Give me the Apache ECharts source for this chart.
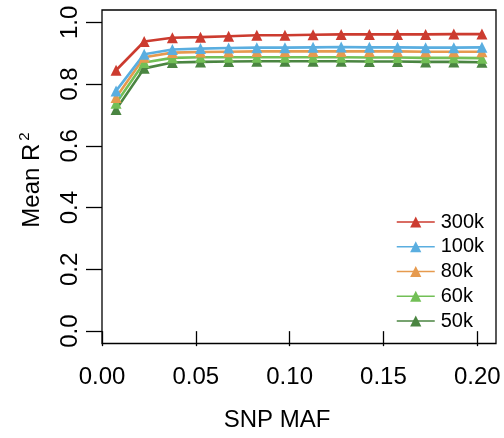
<!DOCTYPE html>
<html>
<head>
<meta charset="utf-8">
<script src="https://cdn.jsdelivr.net/npm/echarts@6/dist/echarts.min.js"></script>
<style>html,body{margin:0;padding:0;background:#fff}#c{width:504px;height:438px}</style>
</head>
<body>
<div id="c"></div>
<script>
var snpMaf = [0.0075,0.0225,0.0375,0.0525,0.0675,0.0825,0.0975,0.1125,0.1275,0.1425,0.1575,0.1725,0.1875,0.2025];
var r300k = [0.845,0.938,0.950,0.952,0.955,0.958,0.958,0.960,0.961,0.961,0.961,0.961,0.962,0.962];
var r100k = [0.778,0.897,0.912,0.915,0.917,0.918,0.918,0.919,0.920,0.919,0.919,0.918,0.918,0.919];
var r80k  = [0.757,0.887,0.902,0.904,0.905,0.906,0.906,0.906,0.906,0.906,0.906,0.905,0.905,0.905];
var r60k  = [0.738,0.870,0.885,0.887,0.887,0.887,0.887,0.887,0.887,0.886,0.886,0.885,0.885,0.884];
var r50k  = [0.718,0.851,0.870,0.872,0.873,0.874,0.874,0.874,0.874,0.873,0.873,0.872,0.872,0.871];
var seriesNames = ['300k','100k','80k','60k','50k'];
var xTicks = [0, 0.05, 0.10, 0.15, 0.20];
var yTicks = [0, 0.2, 0.4, 0.6, 0.8, 1.0];

var colors = {'300k':'#CC3B2F','100k':'#5AAEE0','80k':'#E69A4E','60k':'#72BF56','50k':'#4A8541'};
var values = {'300k':r300k,'100k':r100k,'80k':r80k,'60k':r60k,'50k':r50k};
var font = '"Liberation Sans", Arial, Helvetica, sans-serif';

function pairs(arr){ return snpMaf.map(function(x,i){ return [x, arr[i]]; }); }

var series = ['50k','60k','80k','100k','300k'].map(function(n){
  return {
    name: n, type: 'line', data: pairs(values[n]),
    symbol: 'triangle', symbolSize: 11, showSymbol: true,
    lineStyle: {width: 2.6, color: colors[n]},
    itemStyle: {color: colors[n]},
    emphasis: {disabled: true},
    animation: false
  };
});

var chart = echarts.init(document.getElementById('c'), null, {renderer:'canvas'});
chart.setOption({
  animation: false,
  grid: {left: 102, right: 8, top: 10, height: 333.5, show: true, borderColor: '#000', borderWidth: 1.3, backgroundColor: 'transparent'},
  xAxis: {
    type: 'value', min: 0, max: 0.21,
    axisLine: {show: false},
    splitLine: {show: false},
    axisTick: {show: true, inside: false, length: 15, lineStyle: {color:'#000', width: 1.3}, customValues: xTicks},
    axisLabel: {color:'#000', fontSize: 24, fontFamily: font, margin: 22, customValues: xTicks,
      formatter: function(v){ return v.toFixed(2); }}
  },
  yAxis: {
    type: 'value', min: -0.04, max: 1.04,
    axisLine: {show: false},
    splitLine: {show: false},
    axisTick: {show: true, inside: false, length: 16, lineStyle: {color:'#000', width: 1.3}, customValues: yTicks},
    axisLabel: {color:'#000', fontSize: 24, fontFamily: font, margin: 20, rotate: 90, customValues: yTicks,
      formatter: function(v){ return v.toFixed(1); }}
  },
  legend: {
    data: seriesNames, orient: 'vertical', left: 391, top: 207,
    itemWidth: 38, itemHeight: 14, itemGap: 4.75,
    textStyle: {color:'#000', fontSize: 20, fontFamily: font, padding: [0,0,0,1]},
    lineStyle: {width: 1.5},
    selectedMode: false
  },
  graphic: [
    {type:'text', style: {text: 'SNP MAF', font: '24px ' + font, fill: '#000', x: 277, y: 420, textAlign: 'center', textVerticalAlign: 'middle'}},
    {type:'text', x: 32, y: 180, rotation: Math.PI/2,
      style: {text: '{a|Mean R}{s|2}', fill:'#000', textAlign: 'center', textVerticalAlign: 'middle',
        rich: {a: {fontSize: 24, fontFamily: font, fill:'#000'}, s: {fontSize: 15, fontFamily: font, fill:'#000', verticalAlign: 'top', padding:[0,0,14,3]}}}}
  ],
  series: series
});
</script>
</body>
</html>
